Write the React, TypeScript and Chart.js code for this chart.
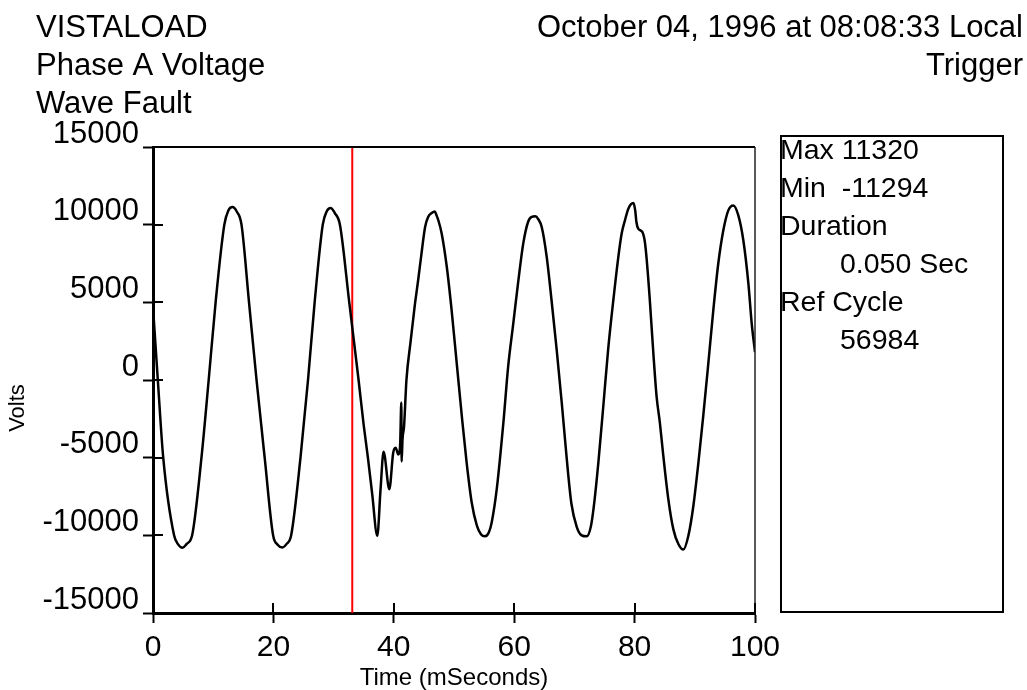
import React, { useEffect, useRef } from 'react';
import { Chart, registerables } from 'chart.js';

Chart.register(...registerables);

const FONT = '"Liberation Sans", Arial, Helvetica, sans-serif';

// Waveform samples (time in ms, voltage in volts)
const timeMs = [
  0, 0.8, 1.7, 3.5, 4.2, 4.9, 5.6, 6.5, 8.05, 9.25, 10.4, 11.85, 12.5, 13.2, 13.9, 14.7,
  15.95, 17.2, 18.55, 19.95, 20.7, 21.5, 22.2, 22.95, 24.5, 25.75, 26.85, 28.2, 28.85, 29.5,
  30.2, 31.05, 32.6, 34.15, 35.0, 35.7, 36.4, 37.26, 37.8, 38.3, 39.26, 39.9, 40.3,
  40.75, 41.05, 41.25, 41.3, 41.45, 41.7, 42.1, 42.8, 43.5, 44.07, 44.6, 45.2, 45.7, 46.3,
  46.8, 47.1, 47.4, 47.96, 48.8, 49.6, 50.45, 51.3, 52.1, 52.94, 53.8, 54.5, 55.15, 55.8,
  56.26, 57.1, 58.2, 59.0, 59.85, 60.7, 61.5, 62.3, 62.9, 63.5, 64.0, 64.57, 65.4, 66.2,
  67.06, 67.9, 68.7, 69.5, 70.4, 71.2, 72.04, 72.76, 73.3, 73.98, 74.8, 75.6, 76.47, 77.3,
  77.85, 78.4, 78.96, 79.8, 80.1, 80.3, 80.6, 81.28, 81.7, 82.0, 82.5, 83.1, 83.65, 84.2,
  84.77, 85.6, 86.43, 87.27, 88.1, 88.93, 89.76, 90.6, 91.4, 92.25, 93.08, 93.9, 94.74,
  95.57, 96.4, 97.23, 98.06, 98.9, 99.45, 100,
];

const volts = [
  4700, 0, -5000, -10000, -10600, -10800, -10550, -10000, -5000, 0, 5000, 10000, 10900, 11130, 10850, 10000,
  5000, 0, -5000, -10000, -10600, -10780, -10550, -10000, -5000, 0, 5000, 10000, 10850, 11070,
  10750, 10000, 5000, 0, -2900, -5000, -7300, -10020, -7030, -4620, -7030, -4680, -4360,
  -4790, -4200, -1450, -5250, -3800, -3000, 0, 2500, 4850, 6500, 8140, 9850, 10490, 10750,
  10850, 10600, 10280, 9420, 7290, 4510, 1090, -2330, -5320, -7890, -9380, -9950, -10065, -9800,
  -9170, -7030, -2760, 876, 3650, 6430, 8780, 10170, 10500, 10535, 10350, 9850, 7930, 5150,
  1945, -1475, -4950, -7950, -9470, -10000, -10065, -9380, -7890, -5320, -1690, 1940, 5150, 7930,
  9430, 10280, 11030, 11390, 10920, 10170, 9745, 9530, 8900, 7800, 5300, 1800, -1047, -2760,
  -4890, -7670, -9600, -10560, -10920, -10030, -8110, -5320, -2330, 1090, 4510, 7500, 9640,
  10920, 11240, 10600, 9000, 6220, 3650, 1800,
];

const triggerMs = 33.1;
const xRange = [0, 100];
const xStep = 20;
const yRange = [-15000, 15000];
const yStep = 5000;

const headerLeft = ['VISTALOAD', 'Phase A Voltage', 'Wave Fault'];
const headerRight = ['October 04, 1996 at 08:08:33 Local', 'Trigger'];
const statsLines = ['Max 11320', 'Min  -11294', 'Duration', '0.050 Sec', 'Ref Cycle', '56984'];
const statsIndent = [false, false, false, true, false, true];
const xTitle = 'Time (mSeconds)';
const yTitle = 'Volts';

const decorPlugin = {
  id: 'decor',
  afterDraw(chart: any) {
    const ctx: CanvasRenderingContext2D = chart.ctx;
    const { left, right, top, bottom } = chart.chartArea;
    const xs = chart.scales.x;
    const ys = chart.scales.y;
    ctx.save();
    ctx.strokeStyle = '#000';
    // top frame line
    ctx.lineWidth = 2;
    ctx.beginPath();
    ctx.moveTo(left, top);
    ctx.lineTo(right, top);
    ctx.stroke();
    // right frame line
    ctx.lineWidth = 1.5;
    ctx.strokeStyle = '#222';
    ctx.beginPath();
    ctx.moveTo(right, top);
    ctx.lineTo(right, bottom);
    ctx.stroke();
    // inner halves of the tick marks
    ctx.strokeStyle = '#000';
    ctx.lineWidth = 2;
    ys.ticks.forEach((t: any) => {
      const py = Math.round(ys.getPixelForValue(t.value));
      ctx.beginPath();
      ctx.moveTo(left, py);
      ctx.lineTo(left + 10, py);
      ctx.stroke();
    });
    xs.ticks.forEach((t: any) => {
      const px = Math.round(xs.getPixelForValue(t.value));
      ctx.beginPath();
      ctx.moveTo(px, bottom);
      ctx.lineTo(px, bottom - 10);
      ctx.stroke();
    });

    // header texts
    ctx.fillStyle = '#000';
    ctx.font = `31px ${FONT}`;
    ctx.textBaseline = 'alphabetic';
    ctx.textAlign = 'left';
    headerLeft.forEach((s, i) => ctx.fillText(s, 36, 37 + i * 38));
    ctx.textAlign = 'right';
    headerRight.forEach((s, i) => ctx.fillText(s, 1023, 37 + i * 38));

    // stats box
    ctx.lineWidth = 2;
    ctx.strokeRect(781, 136, 222, 476);
    ctx.font = `28.5px ${FONT}`;
    ctx.textAlign = 'left';
    statsLines.forEach((s, i) => ctx.fillText(s, statsIndent[i] ? 840 : 780, 159 + i * 38));

    // y axis title
    ctx.save();
    ctx.translate(18, 408);
    ctx.rotate(-Math.PI / 2);
    ctx.textAlign = 'center';
    ctx.textBaseline = 'middle';
    ctx.font = `22px ${FONT}`;
    ctx.fillText(yTitle, 0, 0);
    ctx.restore();

    ctx.restore();
  },
};

export default function App() {
  const ref = useRef<HTMLCanvasElement | null>(null);

  useEffect(() => {
    if (!ref.current) return;
    const chart = new Chart(ref.current, {
      type: 'line',
      data: {
        datasets: [
          {
            data: timeMs.map((t, i) => ({ x: t, y: volts[i] })),
            borderColor: '#000',
            borderWidth: 2.5,
            pointRadius: 0,
            cubicInterpolationMode: 'monotone',
            fill: false,
          },
          {
            data: [
              { x: triggerMs, y: yRange[0] },
              { x: triggerMs, y: yRange[1] },
            ],
            borderColor: '#ff0000',
            borderWidth: 2,
            pointRadius: 0,
            fill: false,
          },
        ],
      },
      options: {
        animation: false,
        responsive: false,
        devicePixelRatio: 1,
        events: [],
        layout: { padding: { top: 147, right: 272, left: 0, bottom: 0 } },
        plugins: {
          legend: { display: false },
          tooltip: { enabled: false },
        },
        scales: {
          x: {
            type: 'linear',
            min: xRange[0],
            max: xRange[1],
            ticks: {
              stepSize: xStep,
              color: '#000',
              font: { family: FONT, size: 30 },
              padding: 7,
              maxRotation: 0,
              autoSkip: false,
              callback: (v: any) => String(v),
            },
            grid: { drawOnChartArea: false, drawTicks: true, tickLength: 10, tickWidth: 2, color: '#000' },
            border: { display: true, color: '#000', width: 3 },
            title: {
              display: true,
              text: xTitle,
              color: '#000',
              font: { family: FONT, size: 24, lineHeight: 1 },
              padding: 0,
            },
            afterFit: (s: any) => {
              s.height = 77;
            },
          },
          y: {
            type: 'linear',
            min: yRange[0],
            max: yRange[1],
            ticks: {
              stepSize: yStep,
              color: '#000',
              font: { family: FONT, size: 31 },
              padding: 4,
              labelOffset: -13,
              autoSkip: false,
              callback: (v: any) => String(v),
            },
            grid: { drawOnChartArea: false, drawTicks: true, tickLength: 10, tickWidth: 2, color: '#000' },
            border: { display: true, color: '#000', width: 3 },
            afterFit: (s: any) => {
              s.width = 153;
            },
          },
        },
      } as any,
      plugins: [decorPlugin],
    });
    return () => chart.destroy();
  }, []);

  return (
    <div style={{ position: 'absolute', left: 0, top: 0, width: 1027, height: 690, background: '#fff' }}>
      <canvas ref={ref} width={1027} height={690} style={{ display: 'block' }} />
    </div>
  );
}
